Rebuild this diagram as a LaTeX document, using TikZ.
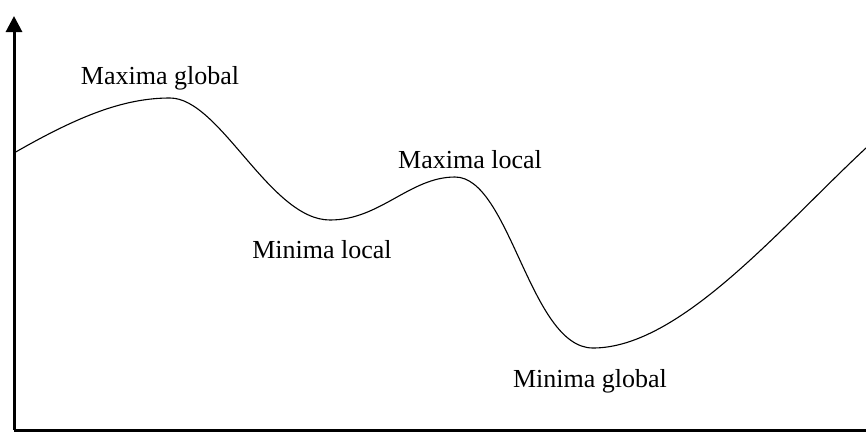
\documentclass[tikz,border=0pt]{standalone}
\usepackage{fontspec}
\setmainfont{Liberation Serif}
\usetikzlibrary{positioning, arrows.meta}
\tikzset{
    axis/.style={line width=3pt, -{Triangle[width=16pt, length=16pt]}},
    curve/.style={line width=1.1pt},
    extlabel/.style={font=\fontsize{26}{30}\selectfont, inner sep=0pt}
}
\begin{document}
\begin{tikzpicture}[x=1pt, y=-1pt]
    \useasboundingbox (0,0) rectangle (866,432);

    % Axes
    \coordinate (origin) at (14,430);
    \coordinate (ytop) at (14,16);
    \coordinate (xend) at (884,430);
    \draw[axis] (origin) -- (ytop);
    \draw[axis] (origin) -- (xend);

    % Extrema of the curve
    \coordinate (start) at (14,153);
    \coordinate (gmax) at (170,98);
    \coordinate (lmin) at (330,220);
    \coordinate (lmax) at (455,177);
    \coordinate (gmin) at (593,348);
    \coordinate (stop) at (866,148);

    % Curve
    \draw[curve] (start) .. controls (80,115) and (125,98) .. (gmax)
        .. controls (220,98) and (270,220) .. (lmin)
        .. controls (380,220) and (410,177) .. (lmax)
        .. controls (510,177) and (530,348) .. (gmin)
        .. controls (680,348) and (780,228) .. (stop);

    % Labels
    \node[extlabel] (gmaxlbl) at (160,78) {Maxima global};
    \node[extlabel] (lminlbl) at (322,250) {Minima local};
    \node[extlabel] (lmaxlbl) at (470,160) {Maxima local};
    \node[extlabel] (gminlbl) at (590,381) {Minima global};
\end{tikzpicture}
\end{document}
